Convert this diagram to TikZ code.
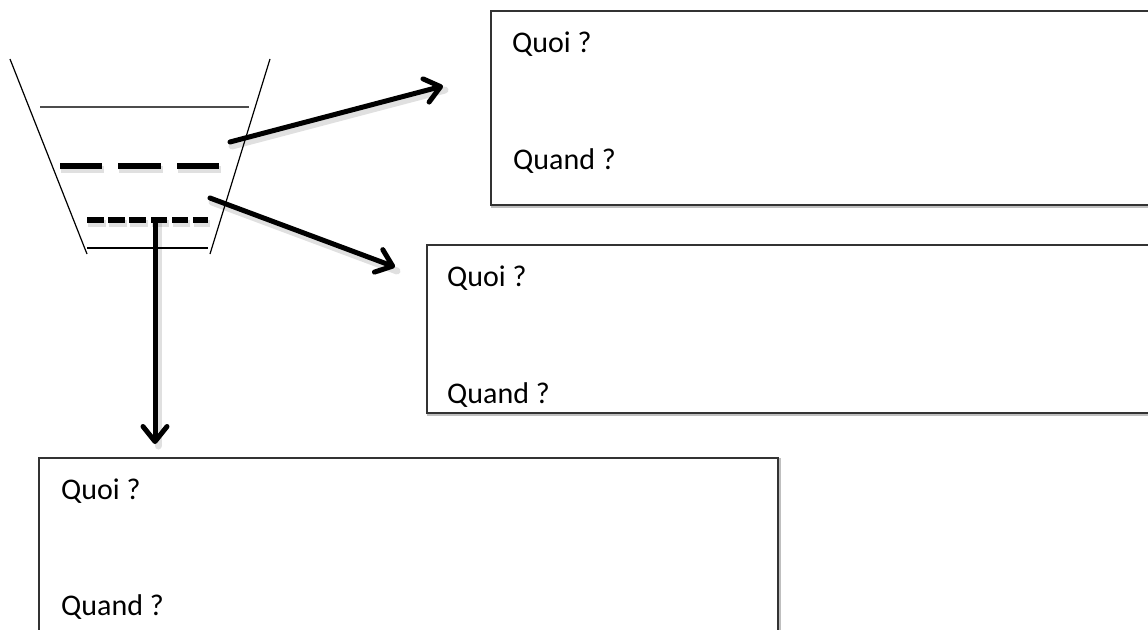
\documentclass[tikz,border=0pt]{standalone}
\usepackage{fontspec}
\setmainfont{Carlito}
\usetikzlibrary{arrows.meta}
\tikzset{
  thin line/.style={line width=1.2pt, draw=black},
  box/.style={line width=1.5pt, draw=black!80},
  boxshadow/.style={line width=1.5pt, draw=black!25},
  thick stroke/.style={line width=5.5pt, draw=black},
  soft shadow/.style={line width=7pt, draw=black, opacity=0.12},
  bigarrow/.style={line width=5pt, draw=black, line cap=round,
    -{Straight Barb[length=15pt, width=24pt, line width=5pt, round]}},
  shadowarrow/.style={line width=7pt, draw=black, opacity=0.12, line cap=round},
  lbl/.style={anchor=base west, inner sep=0pt, font=\fontsize{30}{36}\selectfont}
}
\begin{document}
\begin{tikzpicture}[x=1pt, y=-1pt]
\useasboundingbox (0,0) rectangle (1148,629);
\clip (0,0) rectangle (1148,629);
% funnel
\draw[thin line] (10,59) -- (87,254);
\draw[thin line] (270,59) -- (210,254);
\draw[line width=1.6pt, draw=black!70] (40,107) -- (249,107);
\draw[thin line] (87,248) -- (208,248);
% long dashes
\foreach \a/\b in {60/102, 118/161, 177/219} {
  \draw[soft shadow] (\a+1,169) -- (\b+2,169);
  \draw[thick stroke] (\a,166) -- (\b,166);
}
% short dashes
\foreach \a/\b in {87/104, 108/125, 129/146, 151/167, 172/188, 193/208} {
  \draw[soft shadow] (\a+1,223) -- (\b+2,223);
  \draw[thick stroke] (\a,220) -- (\b,220);
}
% boxes
\draw[boxshadow] (491,207) -- (1160,207);
\draw[box] (491,11) rectangle (1160,205);
\node[lbl] (q1) at (512,52) {Quoi ?};
\node[lbl] (w1) at (513,169) {Quand ?};
\draw[boxshadow] (427,415) -- (1160,415);
\draw[box] (427,245) rectangle (1160,413);
\node[lbl] (q2) at (447,286) {Quoi ?};
\node[lbl] (w2) at (447,403) {Quand ?};
\draw[boxshadow] (780,458) -- (780,640);
\draw[box] (39,458) rectangle (778,640);
\node[lbl] (q3) at (61,499) {Quoi ?};
\node[lbl] (w3) at (61,615) {Quand ?};
% arrows
\coordinate (s1) at (230,142);
\coordinate (e1) at (443,86);
\coordinate (s2) at (210,198);
\coordinate (e2) at (395,267);
\coordinate (s3) at (155,220);
\coordinate (e3) at (155,444);
\draw[shadowarrow] ([shift={(2,4)}]s1) -- ([shift={(2,4)}]e1);
\draw[shadowarrow] ([shift={(2,4)}]s2) -- ([shift={(2,4)}]e2);
\draw[shadowarrow] ([shift={(3,2)}]s3) -- ([shift={(3,2)}]e3);
\draw[bigarrow] (s1) -- (e1);
\draw[bigarrow] (s2) -- (e2);
\draw[bigarrow] (s3) -- (e3);
\end{tikzpicture}
\end{document}
